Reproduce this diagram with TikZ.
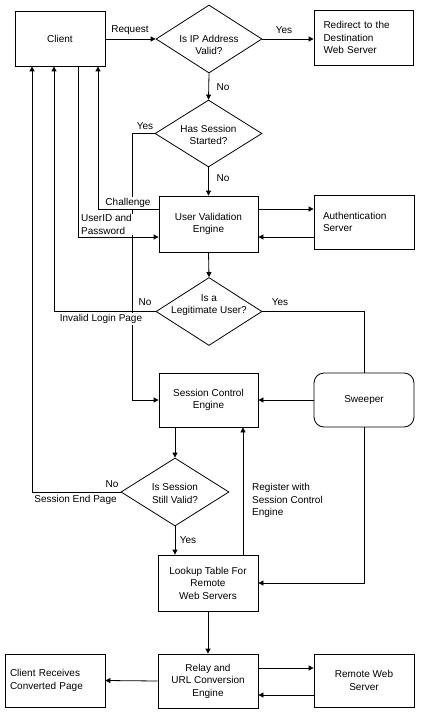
\documentclass[tikz,border=0pt]{standalone}
\usepackage{fontspec}
\setmainfont{Liberation Sans}
\usetikzlibrary{arrows.meta,shapes.geometric}
\begin{document}
\begin{tikzpicture}[x=1pt,y=-1pt,
  every node/.style={font=\fontsize{10}{12.5}\selectfont},
  box/.style={draw, line width=0.8pt, inner sep=0pt, align=center},
  dia/.style={draw, diamond, line width=0.8pt, inner sep=0pt, minimum width=106pt, minimum height=68pt},
  ln/.style={line width=0.8pt},
  arr/.style={line width=0.8pt, -{Triangle[length=5pt,width=5pt]}},
  lbl/.style={fill=white, inner sep=1pt},
  txt/.style={inner sep=0pt, align=center}]
\useasboundingbox[fill=white] (0,0) rectangle (420,714);

% boxes
\node[box, minimum width=90pt, minimum height=55pt] (client) at (60,38.5) {Client};
\node[box, minimum width=99pt, minimum height=55pt, text width=80pt, align=left] (redirect) at (363.5,37.5) {Redirect to the\\Destination\\Web Server};
\node[box, minimum width=99pt, minimum height=56pt] (uve) at (208.5,224) {User Validation\\Engine};
\node[box, minimum width=100pt, minimum height=54pt, text width=82pt, align=left] (auth) at (364,222) {Authentication\\Server};
\node[box, minimum width=99pt, minimum height=54pt] (sce) at (208.5,400) {Session Control\\Engine};
\node[box, rounded corners=10pt, minimum width=100pt, minimum height=54pt] (sweeper) at (364,400) {Sweeper};
\node[box, minimum width=100pt, minimum height=56pt] (lookup) at (208,583) {Lookup Table For\\Remote\\Web Servers};
\node[box, minimum width=100pt, minimum height=54pt] (relay) at (208,681) {Relay and\\URL Conversion\\Engine};
\node[box, minimum width=100pt, minimum height=53pt, text width=90pt, align=left] (crecv) at (55,680.5) {Client Receives\\Converted Page};
\node[box, minimum width=100pt, minimum height=53pt] (remote) at (364,680.5) {Remote Web\\Server};

% diamonds
\node[dia] (d1) at (209,39) {};
\node[txt] (d1t) at (209,45) {Is IP Address\\Valid?};
\node[dia, minimum width=107pt, minimum height=67pt] (d2) at (208.5,133.5) {};
\node[txt] (d2t) at (208.5,135) {Has Session\\Started?};
\node[dia] (d3) at (209,311.5) {};
\node[txt] (d3t) at (209,305) {Is a\\Legitimate User?};
\node[dia, minimum width=108pt] (d4) at (175,492) {};
\node[txt] (d4t) at (175,493.5) {Is Session\\Still Valid?};

% column coordinates
\coordinate (c1) at (32,0);
\coordinate (c2) at (54,0);
\coordinate (c3) at (78,0);
\coordinate (c4) at (98,0);
\coordinate (c5) at (132,0);
\coordinate (c7) at (243,0);

% connectors
\draw[arr] (client.east |- d1.west) -- (d1.west);
\draw[arr] (d1.east) -- (d1.east -| redirect.west);
\draw[arr] (d1.south) -- (d2.north);
\draw[arr] (d2.south) -- (uve.north);
\draw[arr] (d2.west) -| (c5 |- sce.west) -- (sce.west);
\draw[arr] ([yshift=15pt]uve.west) -| (c4 |- client.south);
\draw[arr] (c3 |- client.south) |- ([yshift=-13pt]uve.west);
\draw[arr] ([yshift=15pt]uve.east) -- ([yshift=15pt]uve.east -| auth.west);
\draw[arr] ([yshift=-13pt]uve.east -| auth.west) -- ([yshift=-13pt]uve.east);
\draw[arr] (uve.south) -- (d3.north);
\draw[arr] (d3.west) -| (c2 |- client.south);
\draw[ln] (d3.east) -| (sweeper.north);
\draw[arr] (sweeper.west) -- (sce.east);
\draw[arr] (sweeper.south) |- (lookup.east);
\draw[arr] (sce.south -| d4.north) -- (d4.north);
\draw[arr] (d4.west) -| (c1 |- client.south);
\draw[arr] (d4.south) -- (d4.south |- lookup.north);
\draw[arr] (c7 |- lookup.north) -- (c7 |- sce.south);
\draw[arr] (lookup.south) -- (relay.north);
\draw[arr] (relay.west) -- (crecv.east);
\draw[arr] ([yshift=13pt]relay.east) -- ([yshift=13pt]relay.east -| remote.west);
\draw[arr] ([yshift=-14pt]relay.east -| remote.west) -- ([yshift=-14pt]relay.east);

% labels
\node[lbl] (lreq) at (130,30) {Request};
\node[lbl] (lyes1) at (284,30) {Yes};
\node[lbl] (lno1) at (223,87) {No};
\node[lbl] (lyes2) at (145,126) {Yes};
\node[lbl] (lno2) at (223,178) {No};
\node[lbl] (lchal) at (128,203) {Challenge};
\node[lbl, anchor=west, align=left] (luid) at (80,224.5) {UserID and\\Password};
\node[lbl] (lno3) at (145,302) {No};
\node[lbl] (lyes3) at (280,302) {Yes};
\node[lbl] (linv) at (101,319) {Invalid Login Page};
\node[lbl] (lno4) at (112,484) {No};
\node[lbl] (lsep) at (75.5,500) {Session End Page};
\node[lbl] (lyes4) at (188,540) {Yes};
\node[txt, anchor=west, align=left] (lreg) at (252,500.5) {Register with\\Session Control\\Engine};
\end{tikzpicture}
\end{document}
